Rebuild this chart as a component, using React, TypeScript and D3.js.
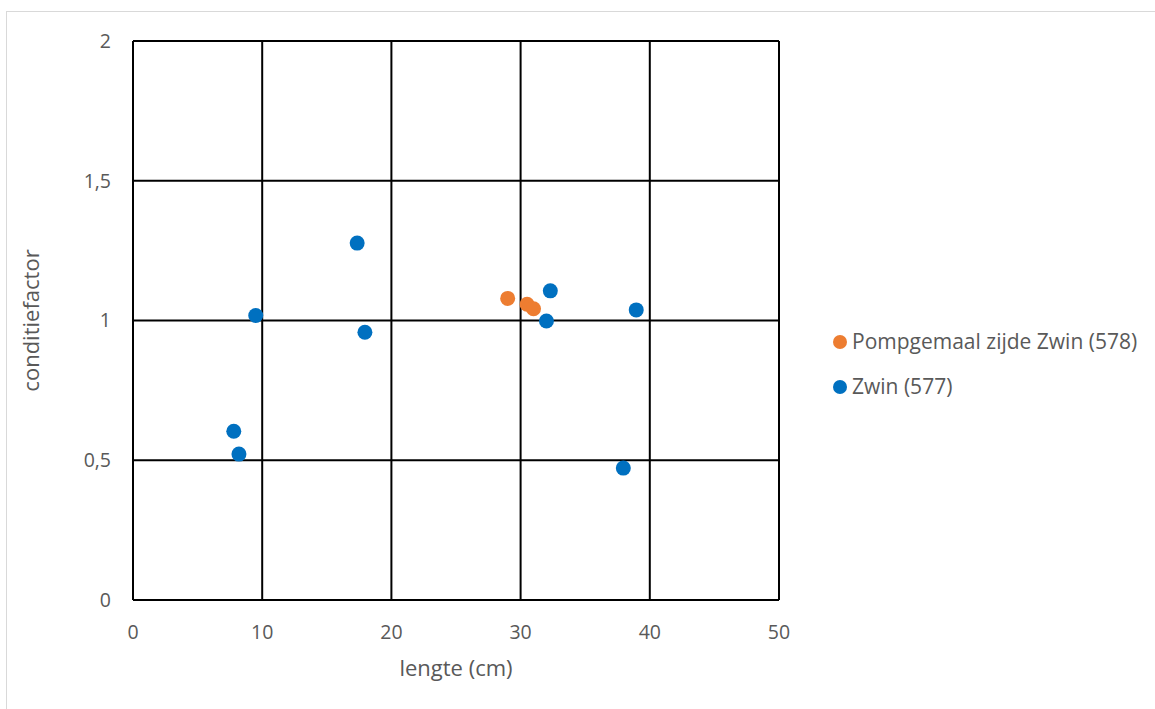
import React from "react";
import * as d3 from "d3";

const zwinLength = [17.35, 9.5, 17.95, 7.8, 8.2, 32.3, 32.0, 38.95, 37.95];
const zwinFactor = [1.277, 1.018, 0.958, 0.604, 0.522, 1.106, 0.998, 1.038, 0.472];
const pompLength = [29.0, 30.5, 31.0];
const pompFactor = [1.079, 1.058, 1.042];

const xTicks = [0, 10, 20, 30, 40, 50];
const yTicks = [0, 0.5, 1, 1.5, 2];

const seriesNames = ["Pompgemaal zijde Zwin (578)", "Zwin (577)"];
const seriesColors = ["#ED7D31", "#0070C0"];

const W = 1155;
const H = 709;
const left = 133;
const right = 779;
const top = 41;
const bottom = 600;
const font = "'Open Sans', sans-serif";
const textColor = "#595959";

export default function App() {
  const x = d3.scaleLinear().domain([0, 50]).range([left, right]);
  const y = d3.scaleLinear().domain([0, 2]).range([bottom, top]);
  const fmt = (v: number) => String(v).replace(".", ",");

  const pomp = pompLength.map((l, i) => ({ l, f: pompFactor[i] }));
  const zwin = zwinLength.map((l, i) => ({ l, f: zwinFactor[i] }));

  return (
    <svg
      width={W}
      height={H}
      style={{ position: "absolute", left: 0, top: 0 }}
      fontFamily={font}
    >
      <rect x={0} y={0} width={W} height={H} fill="#fff" />
      <rect x={6.5} y={11.5} width={W + 10} height={H + 10} fill="none" stroke="#d9d9d9" strokeWidth={1} />

      {/* grid */}
      {xTicks.map((t) => (
        <line key={"gx" + t} x1={x(t)} x2={x(t)} y1={top} y2={bottom} stroke="#000" strokeWidth={2} />
      ))}
      {yTicks.map((t) => (
        <line key={"gy" + t} x1={left} x2={right} y1={y(t)} y2={y(t)} stroke="#000" strokeWidth={2} />
      ))}

      {/* tick labels */}
      {yTicks.map((t) => (
        <text key={"ty" + t} x={111} y={y(t)} dy="0.35em" textAnchor="end" fontSize={19.5} fill={textColor}>
          {fmt(t)}
        </text>
      ))}
      {xTicks.map((t) => (
        <text key={"tx" + t} x={x(t)} y={632} dy="0.35em" textAnchor="middle" fontSize={19.5} fill={textColor}>
          {t}
        </text>
      ))}

      {/* axis titles */}
      <text x={(left + right) / 2} y={668} dy="0.35em" textAnchor="middle" fontSize={22} fill={textColor}>
        lengte (cm)
      </text>
      <text
        transform={`translate(31,${(top + bottom) / 2}) rotate(-90)`}
        dy="0.35em"
        textAnchor="middle"
        fontSize={22}
        fill={textColor}
      >
        conditiefactor
      </text>

      {/* points */}
      {pomp.map((d, i) => (
        <circle key={"p" + i} cx={x(d.l)} cy={y(d.f)} r={7.5} fill={seriesColors[0]} />
      ))}
      {zwin.map((d, i) => (
        <circle key={"z" + i} cx={x(d.l)} cy={y(d.f)} r={7.5} fill={seriesColors[1]} />
      ))}

      {/* legend */}
      {seriesNames.map((name, i) => (
        <g key={name} transform={`translate(840,${342 + i * 45})`}>
          <circle cx={0} cy={0} r={7} fill={seriesColors[i]} />
          <text x={12} y={0} dy="0.35em" fontSize={21} fill={textColor}>
            {name}
          </text>
        </g>
      ))}
    </svg>
  );
}
